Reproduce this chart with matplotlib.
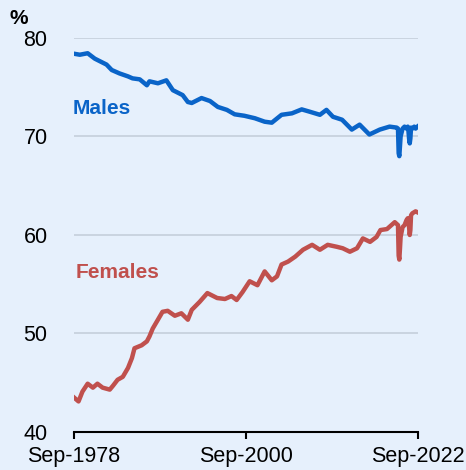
import matplotlib.pyplot as plt
import matplotlib.dates as mdates
import pandas as pd

# readings taken off the chart (participation rate, %)
male_dates = [
    "1978-09", "1979-06", "1980-06", "1981-05", "1982-05", "1982-11", "1983-07",
    "1984-07", "1985-08", "1986-03", "1987-02", "1988-01", "1988-05", "1989-06",
    "1990-07", "1991-05", "1992-08", "1993-04", "1993-10", "1995-01", "1996-02",
    "1997-02", "1998-04", "1999-04", "2000-07", "2001-11", "2003-02", "2004-01",
    "2005-04", "2006-08", "2007-11", "2008-12", "2010-03", "2011-01", "2011-11",
    "2013-01", "2014-04", "2015-04", "2016-07", "2017-11", "2019-02", "2020-01",
    "2020-03", "2020-04", "2020-05", "2020-06", "2020-07", "2020-10", "2021-01",
    "2021-04", "2021-06", "2021-07", "2021-08", "2021-09", "2021-10", "2021-11",
    "2022-01", "2022-04", "2022-06", "2022-09",
]
male_values = [
    78.4, 78.3, 78.45, 77.9, 77.5, 77.3, 76.75,
    76.4, 76.1, 75.9, 75.8, 75.2, 75.6, 75.4,
    75.7, 74.7, 74.2, 73.5, 73.4, 73.9, 73.6,
    73.0, 72.7, 72.25, 72.1, 71.85, 71.5, 71.4,
    72.2, 72.35, 72.75, 72.5, 72.2, 72.7, 72.0,
    71.7, 70.7, 71.2, 70.2, 70.7, 71.0, 70.9,
    70.8, 68.3, 68.0, 69.0, 70.0, 70.8, 71.0,
    70.8, 71.0, 70.6, 69.8, 69.3, 69.8, 70.9,
    70.8, 71.0, 70.8, 71.0,
]

female_dates = [
    "1978-09", "1979-04", "1979-10", "1980-06", "1981-02", "1981-09", "1982-05",
    "1983-04", "1983-09", "1984-04", "1984-12", "1985-08", "1986-02", "1986-06",
    "1987-05", "1988-01", "1988-05", "1988-10", "1989-06", "1990-01", "1990-09",
    "1991-08", "1992-06", "1993-04", "1993-10", "1994-10", "1995-10", "1997-01",
    "1998-01", "1998-11", "1999-07", "2000-04", "2001-03", "2002-03", "2003-02",
    "2004-01", "2004-09", "2005-04", "2006-02", "2007-01", "2008-01", "2009-03",
    "2010-03", "2011-03", "2012-05", "2013-02", "2014-01", "2014-12", "2015-09",
    "2016-08", "2017-06", "2017-12", "2018-10", "2019-10", "2020-03", "2020-04",
    "2020-05", "2020-06", "2020-07", "2020-10", "2021-01", "2021-04", "2021-06",
    "2021-08", "2021-09", "2021-10", "2021-11", "2022-01", "2022-06", "2022-09",
]
female_values = [
    43.5, 43.1, 44.1, 44.9, 44.5, 44.9, 44.5,
    44.3, 44.7, 45.3, 45.6, 46.5, 47.5, 48.5,
    48.8, 49.2, 49.7, 50.5, 51.4, 52.2, 52.3,
    51.8, 52.05, 51.4, 52.4, 53.2, 54.1, 53.6,
    53.5, 53.8, 53.4, 54.2, 55.3, 54.9, 56.3,
    55.4, 55.8, 57.0, 57.3, 57.8, 58.5, 59.0,
    58.5, 59.0, 58.8, 58.65, 58.3, 58.65, 59.65,
    59.3, 59.8, 60.5, 60.6, 61.3, 61.0, 57.9,
    57.5, 58.6, 59.8, 60.8, 61.0, 61.5, 61.7,
    60.8, 60.0, 60.5, 62.0, 62.2, 62.4, 62.3,
]

x_ticks = ["1978-09", "2000-09", "2022-09"]
y_ticks = [40, 50, 60, 70, 80]

bg = "#e6f0fc"
male_col = "#0a64c8"
female_col = "#c0504d"

plt.rcParams["font.family"] = ["Liberation Sans", "DejaVu Sans"]

fig = plt.figure(figsize=(4.66, 4.70), dpi=100, facecolor=bg)
ax = fig.add_axes([0.1588, 0.0809, 0.7372, 0.8383])
ax.set_facecolor(bg)

ax.plot(pd.to_datetime(male_dates), male_values, color=male_col, lw=3.2,
        solid_joinstyle="round", zorder=3)
ax.plot(pd.to_datetime(female_dates), female_values, color=female_col, lw=3.2,
        solid_joinstyle="round", zorder=3)

ax.set_xlim(pd.Timestamp("1978-09"), pd.Timestamp("2022-09"))
ax.set_ylim(40, 80)
ax.set_yticks(y_ticks)
ax.set_xticks(pd.to_datetime(x_ticks))
ax.xaxis.set_major_formatter(mdates.DateFormatter("%b-%Y"))

ax.grid(axis="y", color="#c5cfdb", lw=1.2, zorder=1)
for s in ["left", "right", "top"]:
    ax.spines[s].set_visible(False)
ax.spines["bottom"].set_color("black")
ax.spines["bottom"].set_linewidth(1.5)
ax.tick_params(axis="y", length=0, pad=19, labelsize=15.5)
ax.tick_params(axis="x", direction="out", length=5, width=1.5, pad=5, labelsize=15.5)

ax.text(pd.Timestamp("1978-07"), 72.8, "Males", color=male_col, fontsize=15,
        fontweight="bold", va="center", ha="left")
ax.text(pd.Timestamp("1978-12"), 56.2, "Females", color=female_col, fontsize=15,
        fontweight="bold", va="center", ha="left")
fig.text(9 / 466, 1 - 18 / 470, "%", fontsize=15, fontweight="bold", va="center")

fig.savefig("out.png", dpi=100, facecolor=bg)
